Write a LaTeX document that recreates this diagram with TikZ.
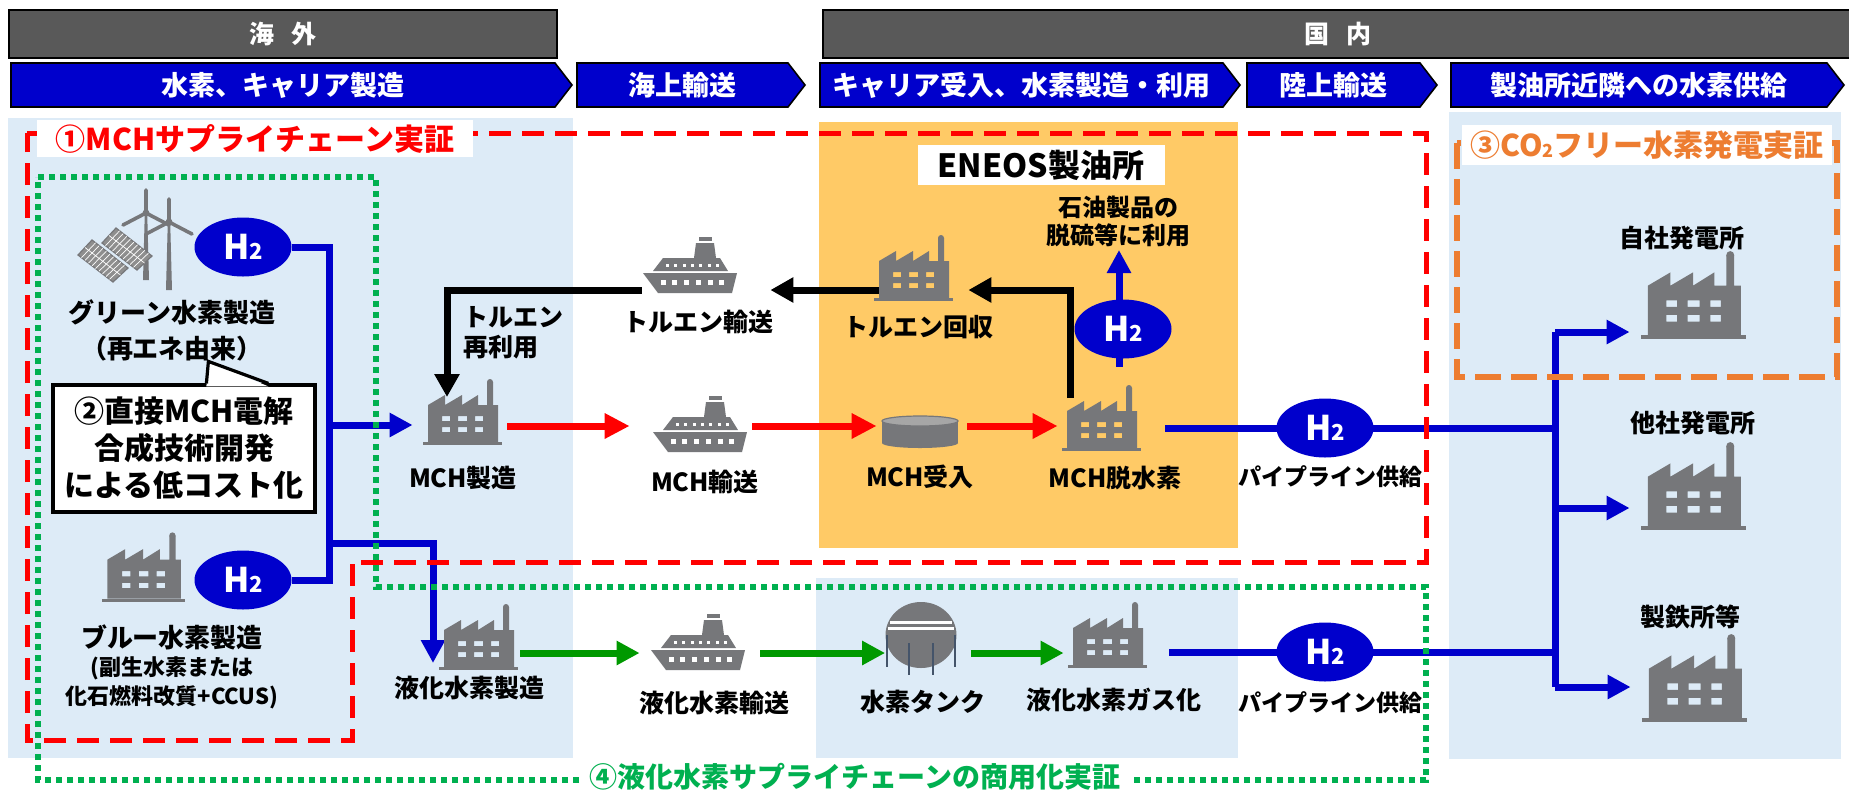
\documentclass[tikz,border=0pt]{standalone}
\usepackage{fontspec}
\setmainfont{Noto Sans CJK JP}
\usetikzlibrary{arrows.meta,calc,shapes.geometric}

\definecolor{panelBlue}{HTML}{DDEBF7}
\definecolor{refinery}{HTML}{FFCA66}
\definecolor{hBlue}{HTML}{0000CC}
\definecolor{hdrGray}{HTML}{595959}
\definecolor{iconGray}{HTML}{76777A}
\definecolor{panelGray}{HTML}{8E8E8E}
\definecolor{tankTop}{HTML}{A6A6A6}
\definecolor{legBlue}{HTML}{44546A}
\definecolor{dotGreen}{HTML}{00B050}
\definecolor{flowGreen}{HTML}{009900}
\definecolor{dashOrange}{HTML}{ED7D31}

\pgfdeclarelayer{back}
\pgfdeclarelayer{flow}
\pgfsetlayers{back,flow,main}

\newcommand{\Htwo}{H{\fontsize{11pt}{11pt}\selectfont 2}}

% icons, drawn around their centre (units are pixels, y pointing down)
\tikzset{
  pics/factory/.style={code={
    \fill[iconGray, even odd rule]
      (-34,30) -- (-34,-7) -- (-17,-17) -- (-17,-7) -- (0,-17) -- (0,-7)
      -- (16,-17) -- (16,-7) -- (25,-7) -- (25,-30) -- (31,-30) -- (31,-7)
      -- (36,-7) -- (36,30) -- cycle
      (-20,4) rectangle (-12,9) (-4,4) rectangle (5,9) (13,4) rectangle (21,9)
      (-20,15) rectangle (-12,20) (-4,15) rectangle (5,20) (13,15) rectangle (21,20);
    \fill[iconGray] (28,-30) circle (3);
    \fill[iconGray] (-39,30) rectangle (40,33);
  }},
  pics/ship/.style={code={
    \fill[iconGray] (-47,6) -- (47,6) -- (42,26) -- (-32,26) -- cycle;
    \fill[iconGray] (-37,4) -- (-27,-9) -- (30,-9) -- (38,4) -- cycle;
    \fill[iconGray] (4,-9) -- (6,-24) -- (24,-24) -- (26,-9) -- cycle;
    \fill[iconGray] (9,-30) rectangle (22,-26);
    \foreach \px in {-27,-16,-4,8,20,31}
      \fill[white] (\px-2.5,13) rectangle (\px+2.5,18);
    \foreach \px in {-23,-15,-6,2,10,19,27}
      \fill[white] (\px-1.5,-3) rectangle (\px+1.5,0);
  }},
  pics/drum/.style={code={
    \fill[iconGray] (-38,-11) rectangle (38,11);
    \fill[iconGray] (0,11) ellipse (38 and 5);
    \filldraw[fill=tankTop, draw=iconGray, line width=0.6pt] (0,-11) ellipse (38 and 5);
  }},
  pics/globetank/.style={code={
    \fill[iconGray] (0,-3) ellipse (35.5 and 33);
    \draw[white, line width=1.5pt] (-31,-16) -- (31,-16);
    \draw[white, line width=1.5pt] (-33,-10) -- (33,-10);
    \draw[legBlue, line width=0.9pt] (-34,-3) -- (-34,29) (34,-3) -- (34,29)
      (-12,5) -- (-12,37) (12,5) -- (12,37);
  }},
  pics/greenpower/.style={code={
    % wind turbines
    \foreach \hx/\hy/\by in {11/-27/40, 34/-18/50} {
      \fill[iconGray] (\hx-3,\by) -- (\hx-1.2,\hy) -- (\hx+1.2,\hy) -- (\hx+3,\by) -- cycle;
      \draw[iconGray, line width=1.8pt, line cap=round]
        (\hx,\hy) -- ++(0,-23) (\hx,\hy) -- ++(-23,12) (\hx,\hy) -- ++(23,12);
      \fill[iconGray] (\hx,\hy) circle (3.5);
    }
    % solar panels
    \foreach \ox/\oy in {24/-12, 0/0} {
      \filldraw[fill=panelGray, draw=iconGray, line width=0.6pt]
        (-57+\ox,15+\oy) -- (-43+\ox,\oy) -- (-7+\ox,28+\oy) -- (-22+\ox,42+\oy) -- cycle;
      \foreach \t in {0.1,0.2,...,0.91}
        \draw[white, line width=0.35pt] ($(-57+\ox,15+\oy)!\t!(-22+\ox,42+\oy)$)
          -- ($(-43+\ox,\oy)!\t!(-7+\ox,28+\oy)$);
      \draw[white, line width=0.35pt] ($(-57+\ox,15+\oy)!0.5!(-43+\ox,\oy)$)
        -- ($(-22+\ox,42+\oy)!0.5!(-7+\ox,28+\oy)$);
    }
  }}
}

\begin{document}
\begin{tikzpicture}[x=0.5pt, y=-0.5pt,
  region/.style={draw=black, line width=1pt, fill=hdrGray, text=white, inner sep=0,
    minimum height=24pt, font=\bfseries\fontsize{12.5pt}{14pt}\selectfont},
  chev/.style={draw=black, line width=0.8pt, fill=hBlue},
  chevtext/.style={text=white, inner sep=0, font=\bfseries\fontsize{13.5pt}{16pt}\selectfont},
  lbl/.style={inner sep=0, align=center, font=\bfseries\fontsize{12.5pt}{15pt}\selectfont},
  small/.style={inner sep=0, align=center, font=\bfseries\fontsize{11pt}{14.5pt}\selectfont},
  facbox/.style={inner sep=0, minimum width=39pt, minimum height=33pt},
  bigfac/.style={inner sep=0, minimum width=53pt, minimum height=45pt},
  shipbox/.style={inner sep=0, minimum width=48pt, minimum height=28pt},
  htwo/.style={ellipse, fill=hBlue, text=white, inner sep=0, minimum width=48.5pt,
    minimum height=29.5pt, font=\bfseries\fontsize{17pt}{17pt}\selectfont},
  flowline/.style={line width=3.5pt},
  hline/.style={flowline, draw=hBlue},
  harrow/.style={flowline, draw=hBlue, -{Triangle[length=11.5pt,width=11.5pt]}},
  rarrow/.style={flowline, draw=red, -{Triangle[length=12.5pt,width=12pt]}},
  karrow/.style={flowline, draw=black, -{Triangle[length=11.5pt,width=12pt]}},
  garrow/.style={flowline, draw=flowGreen, -{Triangle[length=11.5pt,width=11.5pt]}},
  mchbox/.style={draw=red, line width=2.5pt, dash pattern=on 11pt off 5.5pt},
  lhbox/.style={draw=dotGreen, line width=3pt, dash pattern=on 3pt off 2.5pt},
  co2box/.style={draw=dashOrange, line width=3pt, dash pattern=on 13pt off 5pt},
  tag/.style={fill=white, inner sep=0, font=\bfseries\fontsize{15pt}{17pt}\selectfont}
]
\useasboundingbox (0,0) rectangle (1849,789);

\begin{pgfonlayer}{back}
  \fill[white] (0,0) rectangle (1849,789);
  \fill[panelBlue] (8,118) rectangle (573,758);
  \fill[panelBlue] (816,578) rectangle (1238,758);
  \fill[panelBlue] (1449,112) rectangle (1841,759);
  \fill[refinery] (819,122) rectangle (1238,548);
\end{pgfonlayer}

% header
\node[region, minimum width=274pt] (abroad) at (283,34) {海\hspace{0.7em}外};
\node[region, minimum width=515pt] (domestic) at (1338,34) {国\hspace{0.7em}内};
\foreach \xa/\xb/\nm/\txt in {11/572/phmake/水素、キャリア製造, 577/805/phsea/海上輸送,
    820/1240/phport/キャリア受入、水素製造・利用, 1247/1437/phland/陸上輸送,
    1451/1844/phsupply/製油所近隣への水素供給} {
  \draw[chev] (\xa,63) -- (\xb-17,63) -- (\xb,85) -- (\xb-17,107) -- (\xa,107) -- cycle;
  \node[chevtext] (\nm) at ({(\xa+\xb-17)/2},85) {\txt};
}

% icon places
\node[inner sep=0, minimum width=60pt, minimum height=50pt] (green) at (135,240) {};
\node[facbox, scale=1.05] (bluefac) at (143,567) {};
\node[facbox] (mchfac) at (462,412) {};
\node[shipbox] (tolship) at (690,267) {};
\node[shipbox] (mchship) at (700,426) {};
\node[facbox] (tolfac) at (913,268) {};
\node[inner sep=0, minimum width=38pt, minimum height=17pt] (mchtank) at (920,432) {};
\node[facbox] (dehydro) at (1101,418) {};
\node[facbox] (lhfac) at (478,637) {};
\node[shipbox] (lhship) at (698,644) {};
\node[inner sep=0, minimum width=35.5pt, minimum height=36.5pt] (h2tank) at (921,638) {};
\node[facbox] (gasfac) at (1107,635) {};
\node[bigfac] (ownplant) at (1693,295) {};
\node[bigfac] (otherplant) at (1693,486) {};
\node[bigfac] (steel) at (1694,678) {};

% hydrogen
\node[htwo] (h2green) at (243,247) {\Htwo};
\node[htwo] (h2blue) at (243,580) {\Htwo};
\node[htwo] (h2use) at (1123,329) {\Htwo};
\node[htwo] (h2pipeA) at (1325,428) {\Htwo};
\node[htwo] (h2pipeB) at (1325,652) {\Htwo};

% captions
\node[lbl, font=\bfseries\fontsize{13pt}{18pt}\selectfont] (greenlbl) at (172,330) {グリーン水素製造\\（再エネ由来）};
\node[lbl, font=\bfseries\fontsize{13pt}{15pt}\selectfont] (bluelbl) at (172,637) {ブルー水素製造};
\node[small] (bluesub) at (172,683) {(副生水素または\\化石燃料改質+CCUS)};
\node[lbl, align=left] (reuselbl) at (513,333) {トルエン\\再利用};
\node[lbl] (tolshiplbl) at (698,322) {トルエン輸送};
\node[lbl] (mchfaclbl) at (463,478) {MCH製造};
\node[lbl] (mchshiplbl) at (705,482) {MCH輸送};
\node[lbl] (tolfaclbl) at (918,327) {トルエン回収};
\node[lbl] (mchtanklbl) at (920,477) {MCH受入};
\node[lbl] (dehydrolbl) at (1115,478) {MCH脱水素};
\node[lbl, font=\bfseries\fontsize{12pt}{14pt}\selectfont] (uselbl) at (1118,221) {石油製品の\\脱硫等に利用};
\node[lbl, font=\bfseries\fontsize{11.5pt}{14pt}\selectfont] (pipelblA) at (1330,477) {パイプライン供給};
\node[lbl, font=\bfseries\fontsize{11.5pt}{14pt}\selectfont] (pipelblB) at (1330,703) {パイプライン供給};
\node[lbl] (ownlbl) at (1682,238) {自社発電所};
\node[lbl] (otherlbl) at (1693,423) {他社発電所};
\node[lbl] (steellbl) at (1690,617) {製鉄所等};
\node[lbl] (lhfaclbl) at (469,688) {液化水素製造};
\node[lbl] (lhshiplbl) at (714,703) {液化水素輸送};
\node[lbl] (h2tanklbl) at (923,702) {水素タンク};
\node[lbl] (gaslbl) at (1114,700) {液化水素ガス化};

% flow levels and bends
\coordinate (tolY) at (0,290);
\coordinate (mchY) at (0,426);
\coordinate (lhY) at (0,653);
\coordinate (mchjoin) at (330,425);
\coordinate (lhjoin) at (330,543);
\coordinate (lhdrop) at (433,663);
\coordinate (recycle) at (447,397);
\coordinate (tolrise) at (1070,398);
\coordinate (useout) at (1119,250);
\coordinate (busA) at (1555,332);
\coordinate (busM) at (1555,508);
\coordinate (busB) at (1555,687);

\begin{pgfonlayer}{flow}
  % hydrogen to MCH / liquefaction
  \draw[hline] (h2green.east) -- ++(38,0) |- (h2blue.east);
  \draw[harrow, shorten >=5pt] (mchjoin) -- (mchjoin -| mchfac.west);
  \draw[harrow] (lhjoin) -| (lhdrop);
  % MCH chain
  \draw[rarrow, shorten <=3pt, shorten >=11pt] (mchfac.east |- mchY) -- (mchship.west |- mchY);
  \draw[rarrow, shorten <=2pt, shorten >=2.5pt] (mchship.east |- mchY) -- (mchtank.west |- mchY);
  \draw[rarrow, shorten <=4.5pt, shorten >=2pt] (mchtank.east |- mchY) -- (dehydro.west |- mchY);
  % toluene return
  \draw[karrow, shorten >=8pt] (tolrise) |- (tolfac.east |- tolY);
  \draw[karrow, shorten <=-8.5pt, shorten >=16pt] (tolfac.west |- tolY) -- (tolship.east |- tolY);
  \draw[karrow] (tolship.west |- tolY) -| (recycle);
  % refinery use
  \draw[harrow, shorten <=9pt] (useout |- dehydro.north) -- (useout);
  % liquid hydrogen chain
  \draw[garrow, shorten <=1.5pt, shorten >=5pt] (lhfac.east |- lhY) -- (lhship.west |- lhY);
  \draw[garrow, shorten <=7pt] (lhship.east |- lhY) -- (h2tank.west |- lhY);
  \draw[garrow, shorten <=7pt, shorten >=2pt] (h2tank.east |- lhY) -- (gasfac.west |- lhY);
  % pipelines
  \draw[hline, shorten <=12.5pt] (dehydro.east |- h2pipeA) -- (busA |- h2pipeA);
  \draw[hline, shorten <=11.5pt] (gasfac.east |- h2pipeB) -- (busA |- h2pipeB);
  \draw[hline] (busA) -- (busB);
  \draw[harrow, shorten >=5pt] (busA) -- (busA -| ownplant.west);
  \draw[harrow, shorten >=5pt] (busM) -- (busM -| otherplant.west);
  \draw[harrow, shorten >=5pt] (busB) -- (busB -| steel.west);
\end{pgfonlayer}

% icons
\pic at (green) {greenpower};
\pic[scale=1.05] at (bluefac) {factory};
\pic at (mchfac) {factory};
\pic at (tolship) {ship};
\pic at (mchship) {ship};
\pic at (tolfac) {factory};
\pic at (mchtank) {drum};
\pic at (dehydro) {factory};
\pic at (lhfac) {factory};
\pic at (lhship) {ship};
\pic at (h2tank) {globetank};
\pic at (gasfac) {factory};
\pic[scale=1.33] at (ownplant) {factory};
\pic[scale=1.33] at (otherplant) {factory};
\pic[scale=1.33] at (steel) {factory};

% callout
\node[draw, line width=1.6pt, fill=white, align=center, inner sep=0,
  minimum width=131pt, minimum height=63.5pt,
  font=\bfseries\fontsize{15pt}{18.5pt}\selectfont] (direct) at (184,448.5)
  {②直接MCH電解\\合成技術開発\\による低コスト化};
\fill[white] ($(direct.north west)+(155,3)$) -- ($(direct.north west)+(157,-22)$)
  -- ($(direct.north west)+(217,3)$) -- cycle;
\draw[line width=1.6pt] ($(direct.north west)+(155,0)$) -- ($(direct.north west)+(157,-22)$)
  -- ($(direct.north west)+(217,0)$);

% demonstration scopes
\draw[mchbox] (27,133) -- (1426,133) -- (1426,562) -- (352,562) -- (352,740) -- (27,740) -- cycle;
\draw[lhbox] (38,177) -- (376,177) -- (376,587) -- (1426,587) -- (1426,780) -- (38,780) -- cycle;
\draw[co2box] (1457,143) rectangle (1837,377);

\node[tag, text=red, minimum width=218pt, minimum height=18.5pt] (mchtag) at (255,138.5) {①MCHサプライチェーン実証};
\node[tag, text=dashOrange, minimum width=185pt, minimum height=20pt] (co2tag) at (1647,145)
  {③CO\raisebox{-0.5pt}{\fontsize{9pt}{9pt}\selectfont 2}フリー水素発電実証};
\node[tag, text=dotGreen, minimum width=275pt, minimum height=14pt,
  font=\bfseries\fontsize{14pt}{16pt}\selectfont] (lhtag) at (855,777) {④液化水素サプライチェーンの商用化実証};
\node[tag, minimum width=123.5pt, minimum height=20pt,
  font=\bfseries\fontsize{16pt}{18pt}\selectfont] (eneos) at (1041,165) {ENEOS製油所};
\end{tikzpicture}
\end{document}
